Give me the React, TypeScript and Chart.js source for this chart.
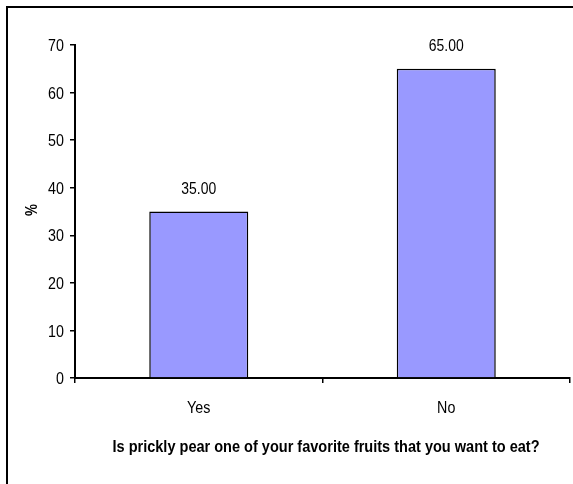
import React, { useEffect, useRef } from "react";
import { Chart, registerables } from "chart.js";

Chart.register(...registerables);

const categories = ["Yes", "No"];
const percentages = [35.0, 65.0];
const yTicks = [0, 10, 20, 30, 40, 50, 60, 70];
const xTitle = "Is prickly pear one of your favorite fruits that you want to eat?";
const yTitle = "%";

const FONT = "'Liberation Sans', Arial, sans-serif";
// Horizontal squeeze applied to text to get a narrow typeface look
const NARROW = 0.84;

function narrowText(
  ctx: CanvasRenderingContext2D,
  text: string,
  x: number,
  y: number,
  font: string,
  align: CanvasTextAlign,
  sx: number,
  rotate = 0
) {
  ctx.save();
  ctx.font = font;
  ctx.fillStyle = "#000";
  ctx.textAlign = align;
  ctx.textBaseline = "alphabetic";
  ctx.translate(x, y);
  if (rotate) ctx.rotate(rotate);
  ctx.scale(sx, 1);
  ctx.fillText(text, 0, 0);
  ctx.restore();
}

// Outer frame around the whole figure
const framePlugin = {
  id: "frame",
  afterDraw(chart: any) {
    const ctx = chart.ctx;
    ctx.save();
    ctx.strokeStyle = "#000";
    ctx.lineWidth = 2;
    ctx.strokeRect(7, 7, chart.width + 50, chart.height + 50);
    ctx.restore();
  },
};

// Axis labels, axis titles and value labels in a condensed style
const textPlugin = {
  id: "narrowLabels",
  afterDraw(chart: any) {
    const ctx = chart.ctx as CanvasRenderingContext2D;
    const xs = chart.scales.x;
    const ys = chart.scales.y;
    const area = chart.chartArea;

    yTicks.forEach((v) => {
      const y = ys.getPixelForValue(v);
      narrowText(ctx, String(v), area.left - 11, y + 6.2, `17px ${FONT}`, "right", NARROW);
    });

    categories.forEach((c, i) => {
      const x = xs.getPixelForValue(i);
      narrowText(ctx, c, x, area.bottom + 35, `17px ${FONT}`, "center", NARROW);
    });

    const meta = chart.getDatasetMeta(0);
    meta.data.forEach((bar: any, i: number) => {
      narrowText(ctx, percentages[i].toFixed(2), bar.x, bar.y - 17.5, `17px ${FONT}`, "center", 0.82);
    });

    const titleFont = `bold 16px ${FONT}`;
    ctx.save();
    ctx.font = titleFont;
    const w = ctx.measureText(xTitle).width;
    ctx.restore();
    narrowText(ctx, xTitle, 326, area.bottom + 74, titleFont, "center", 427 / w);

    narrowText(ctx, yTitle, 31 + 6, 210, titleFont, "center", NARROW, -Math.PI / 2);
  },
};

export default function App() {
  const ref = useRef<HTMLCanvasElement>(null);

  useEffect(() => {
    if (!ref.current) return;
    const chart = new Chart(ref.current, {
      type: "bar",
      data: {
        labels: categories,
        datasets: [
          {
            data: percentages,
            backgroundColor: "#9999FF",
            borderColor: "#000",
            borderWidth: 1.5,
            barPercentage: 0.8,
            categoryPercentage: 0.5,
          },
        ],
      },
      options: {
        responsive: false,
        animation: false,
        layout: { padding: { top: 45, right: 3, left: 0, bottom: 0 } },
        plugins: {
          legend: { display: false },
          tooltip: { enabled: false },
        },
        scales: {
          x: {
            afterFit(scale: any) {
              scale.height = 106;
            },
            grid: {
              offset: true,
              drawOnChartArea: false,
              drawTicks: true,
              tickLength: 5,
              color: "#000",
              lineWidth: 1.5,
            },
            border: { color: "#000", width: 2 },
            ticks: { display: false },
            title: { display: false, text: xTitle },
          },
          y: {
            min: 0,
            max: 70,
            afterFit(scale: any) {
              scale.width = 75;
            },
            afterBuildTicks(scale: any) {
              scale.ticks = yTicks.map((v) => ({ value: v }));
            },
            grid: {
              drawOnChartArea: false,
              drawTicks: true,
              tickLength: 5,
              color: "#000",
              lineWidth: 1.5,
            },
            border: { color: "#000", width: 2 },
            ticks: { display: false },
            title: { display: false, text: yTitle },
          },
        },
      },
      plugins: [framePlugin, textPlugin],
    });
    return () => chart.destroy();
  }, []);

  return (
    <div style={{ position: "absolute", left: 0, top: 0, width: 573, height: 484, background: "#fff" }}>
      <canvas ref={ref} width={573} height={484} />
    </div>
  );
}
